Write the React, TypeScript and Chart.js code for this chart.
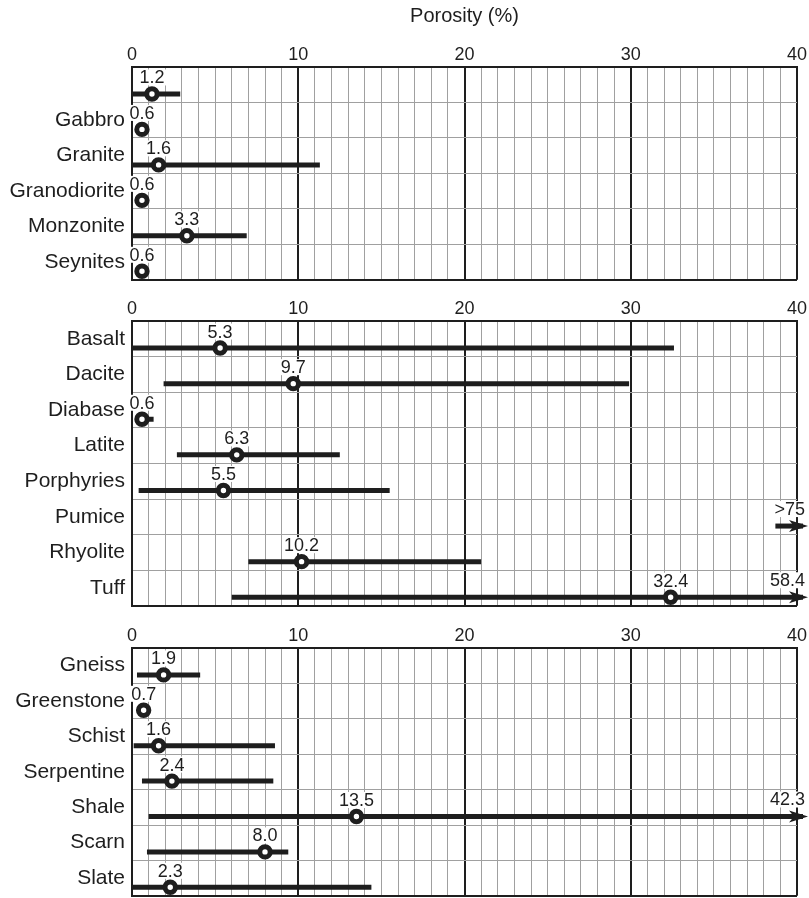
import React, { useEffect, useRef } from 'react';
import { Chart, registerables } from 'chart.js';

Chart.register(...registerables);

// ---------- data ----------
const plutonicRocks = ['', 'Gabbro', 'Granite', 'Granodiorite', 'Monzonite', 'Seynites'];
const plutonicMean: (number | null)[] = [1.2, 0.6, 1.6, 0.6, 3.3, 0.6];
const plutonicLow: (number | null)[] = [0, null, 0, null, 0, null];
const plutonicHigh: (number | null)[] = [2.9, null, 11.3, null, 6.9, null];

const volcanicRocks = ['Basalt', 'Dacite', 'Diabase', 'Latite', 'Porphyries', 'Pumice', 'Rhyolite', 'Tuff'];
const volcanicMean: (number | null)[] = [5.3, 9.7, 0.6, 6.3, 5.5, null, 10.2, 32.4];
const volcanicLow: (number | null)[] = [0, 1.9, 0.3, 2.7, 0.4, null, 7.0, 6.0];
const volcanicHigh: (number | null)[] = [32.6, 29.9, 1.3, 12.5, 15.5, 75, 21.0, 58.4];

const metamorphicRocks = ['Gneiss', 'Greenstone', 'Schist', 'Serpentine', 'Shale', 'Scarn', 'Slate'];
const metamorphicMean: (number | null)[] = [1.9, 0.7, 1.6, 2.4, 13.5, 8.0, 2.3];
const metamorphicLow: (number | null)[] = [0.3, null, 0.1, 0.6, 1.0, 0.9, 0];
const metamorphicHigh: (number | null)[] = [4.1, null, 8.6, 8.5, 42.3, 9.4, 14.4];

const X_MIN = 0;
const X_MAX = 40;
const X_MAJOR = 10;
const AXIS_TITLE = 'Porosity (%)';

// ---------- style ----------
const FONT = '"Liberation Sans", Arial, Helvetica, sans-serif';
const INK = '#1e1e1e';
const GRID = '#a0a0a0';
const ROW_OFF = 0.76;
const STUB = 1.3;
const W = 809;
const AXIS_W = 132;
const PAD_R = 12;

function drawValueLabel(ctx: CanvasRenderingContext2D, text: string, x: number, y: number, align: 'center' | 'right') {
  ctx.save();
  ctx.font = `18px ${FONT}`;
  const w = ctx.measureText(text).width;
  const h = 16;
  const left = align === 'right' ? x - w : x - w / 2;
  ctx.fillStyle = '#ffffff';
  ctx.fillRect(left - 2, y - h / 2, w + 4, h);
  ctx.fillStyle = INK;
  ctx.textAlign = align;
  ctx.textBaseline = 'middle';
  ctx.fillText(text, x, y + 1);
  ctx.restore();
}

function drawArrowHead(ctx: CanvasRenderingContext2D, x: number, y: number) {
  ctx.save();
  ctx.fillStyle = INK;
  ctx.fillRect(x - 2, y - 2.5, 8, 5);
  ctx.beginPath();
  ctx.moveTo(x + 11, y);
  ctx.lineTo(x - 8, y - 6);
  ctx.lineTo(x - 3, y);
  ctx.lineTo(x - 8, y + 6);
  ctx.closePath();
  ctx.fill();
  ctx.restore();
}

type PanelProps = {
  rocks: string[];
  mean: (number | null)[];
  low: (number | null)[];
  high: (number | null)[];
  top: number;
  axisH: number;
  canvasH: number;
  padBottom: number;
  title?: string;
};

function Panel({ rocks, mean, low, high, top, axisH, canvasH, padBottom, title }: PanelProps) {
  const ref = useRef<HTMLCanvasElement>(null);
  const n = rocks.length;

  useEffect(() => {
    if (!ref.current) return;
    const rowY = (i: number) => i + ROW_OFF;

    const datasets: any[] = [];
    datasets.push({
      type: 'scatter',
      data: mean
        .map((m, i) => (m == null ? null : { x: m, y: rowY(i) }))
        .filter((p) => p !== null),
      pointRadius: 5.2,
      pointHoverRadius: 5.2,
      pointBorderWidth: 5,
      pointBackgroundColor: '#ffffff',
      pointBorderColor: INK,
      showLine: false,
      order: 0,
    });
    rocks.forEach((_, i) => {
      const lo = low[i];
      const hi = high[i];
      if (lo == null || hi == null) return;
      datasets.push({
        type: 'scatter',
        data: [
          { x: lo, y: rowY(i) },
          { x: hi, y: rowY(i) },
        ],
        showLine: true,
        borderColor: INK,
        borderWidth: 5,
        borderCapStyle: 'butt',
        pointRadius: 0,
        pointHoverRadius: 0,
        order: 1,
      });
    });

    const overlay = {
      id: 'overlay',
      afterDatasetsDraw(chart: any) {
        const ctx = chart.ctx as CanvasRenderingContext2D;
        const xs = chart.scales.x;
        const ys = chart.scales.y;
        const R = chart.chartArea.right;
        rocks.forEach((_, i) => {
          const py = ys.getPixelForValue(rowY(i));
          const hi = high[i];
          const lo = low[i];
          if (hi != null && hi > X_MAX) {
            if (lo == null) {
              const x0 = xs.getPixelForValue(X_MAX - STUB);
              ctx.save();
              ctx.fillStyle = INK;
              ctx.fillRect(x0, py - 2.5, R - x0, 5);
              ctx.restore();
            }
            drawArrowHead(ctx, R, py);
            const txt = lo == null ? '>' + hi : hi.toFixed(1);
            drawValueLabel(ctx, txt, R + 8, py - 17, 'right');
          }
          const m = mean[i];
          if (m != null) {
            const px = xs.getPixelForValue(m);
            drawValueLabel(ctx, m.toFixed(1), px, py - 16.5, 'center');
          }
        });
      },
    };

    const chart = new Chart(ref.current, {
      type: 'scatter',
      data: { datasets },
      plugins: [overlay],
      options: {
        animation: false,
        responsive: false,
        devicePixelRatio: 1,
        events: [],
        layout: { padding: { top: 0, bottom: padBottom, left: 0, right: PAD_R } },
        plugins: { legend: { display: false }, tooltip: { enabled: false } },
        scales: {
          x: {
            type: 'linear',
            position: 'top',
            min: X_MIN,
            max: X_MAX,
            afterBuildTicks: (s: any) => {
              const t = [];
              for (let v = X_MIN; v <= X_MAX; v++) t.push({ value: v });
              s.ticks = t;
            },
            afterFit: (s: any) => {
              s.height = axisH;
              s.paddingLeft = 0;
              s.paddingRight = 0;
            },
            grid: {
              drawTicks: false,
              color: (c: any) => (c.tick && c.tick.value % X_MAJOR === 0 ? INK : GRID),
              lineWidth: (c: any) => (c.tick && c.tick.value % X_MAJOR === 0 ? 2 : 1),
            },
            border: { display: true, color: INK, width: 2 },
            ticks: {
              autoSkip: false,
              maxRotation: 0,
              minRotation: 0,
              padding: 1,
              color: INK,
              font: { family: FONT, size: 18 },
              callback: (v: any) => (Number(v) % X_MAJOR === 0 ? String(v) : ''),
            },
            title: {
              display: !!title,
              text: title || '',
              color: INK,
              font: { family: FONT, size: 20 },
              padding: { top: 4, bottom: 0 },
            },
          },
          y: {
            type: 'linear',
            reverse: true,
            min: 0,
            max: n,
            afterBuildTicks: (s: any) => {
              const t = [];
              for (let k = 0; k <= 2 * n; k++) t.push({ value: k / 2 });
              s.ticks = t;
            },
            afterFit: (s: any) => {
              s.width = AXIS_W;
              s.paddingTop = 0;
              s.paddingBottom = 0;
            },
            grid: {
              drawTicks: false,
              color: (c: any) => {
                const k = Math.round((c.tick ? c.tick.value : 0) * 2);
                if (k % 2 === 1) return 'rgba(0,0,0,0)';
                if (k === 0 || k === 2 * n) return INK;
                return GRID;
              },
              lineWidth: (c: any) => {
                const k = Math.round((c.tick ? c.tick.value : 0) * 2);
                if (k % 2 === 1) return 0;
                if (k === 0 || k === 2 * n) return 2;
                return 1;
              },
            },
            border: { display: true, color: INK, width: 2 },
            ticks: {
              autoSkip: false,
              padding: 7,
              color: INK,
              font: { family: FONT, size: 21 },
              callback: (v: any) => {
                const k = Math.round(Number(v) * 2);
                return k % 2 === 1 ? rocks[(k - 1) / 2] : '';
              },
            },
          },
        },
      } as any,
    });
    return () => chart.destroy();
  }, []);

  return (
    <canvas
      ref={ref}
      width={W}
      height={canvasH}
      style={{ position: 'absolute', left: 0, top, width: W, height: canvasH, display: 'block' }}
    />
  );
}

export default function App() {
  return (
    <div
      style={{
        position: 'absolute',
        left: 0,
        top: 0,
        width: W,
        height: 898,
        overflow: 'hidden',
        background: '#ffffff',
      }}
    >
      <Panel
        rocks={plutonicRocks}
        mean={plutonicMean}
        low={plutonicLow}
        high={plutonicHigh}
        top={0}
        axisH={67}
        canvasH={290}
        padBottom={7}
        title={AXIS_TITLE}
      />
      <Panel
        rocks={volcanicRocks}
        mean={volcanicMean}
        low={volcanicLow}
        high={volcanicHigh}
        top={290}
        axisH={31}
        canvasH={326}
        padBottom={7}
      />
      <Panel
        rocks={metamorphicRocks}
        mean={metamorphicMean}
        low={metamorphicLow}
        high={metamorphicHigh}
        top={616}
        axisH={32}
        canvasH={290}
        padBottom={6}
      />
    </div>
  );
}
